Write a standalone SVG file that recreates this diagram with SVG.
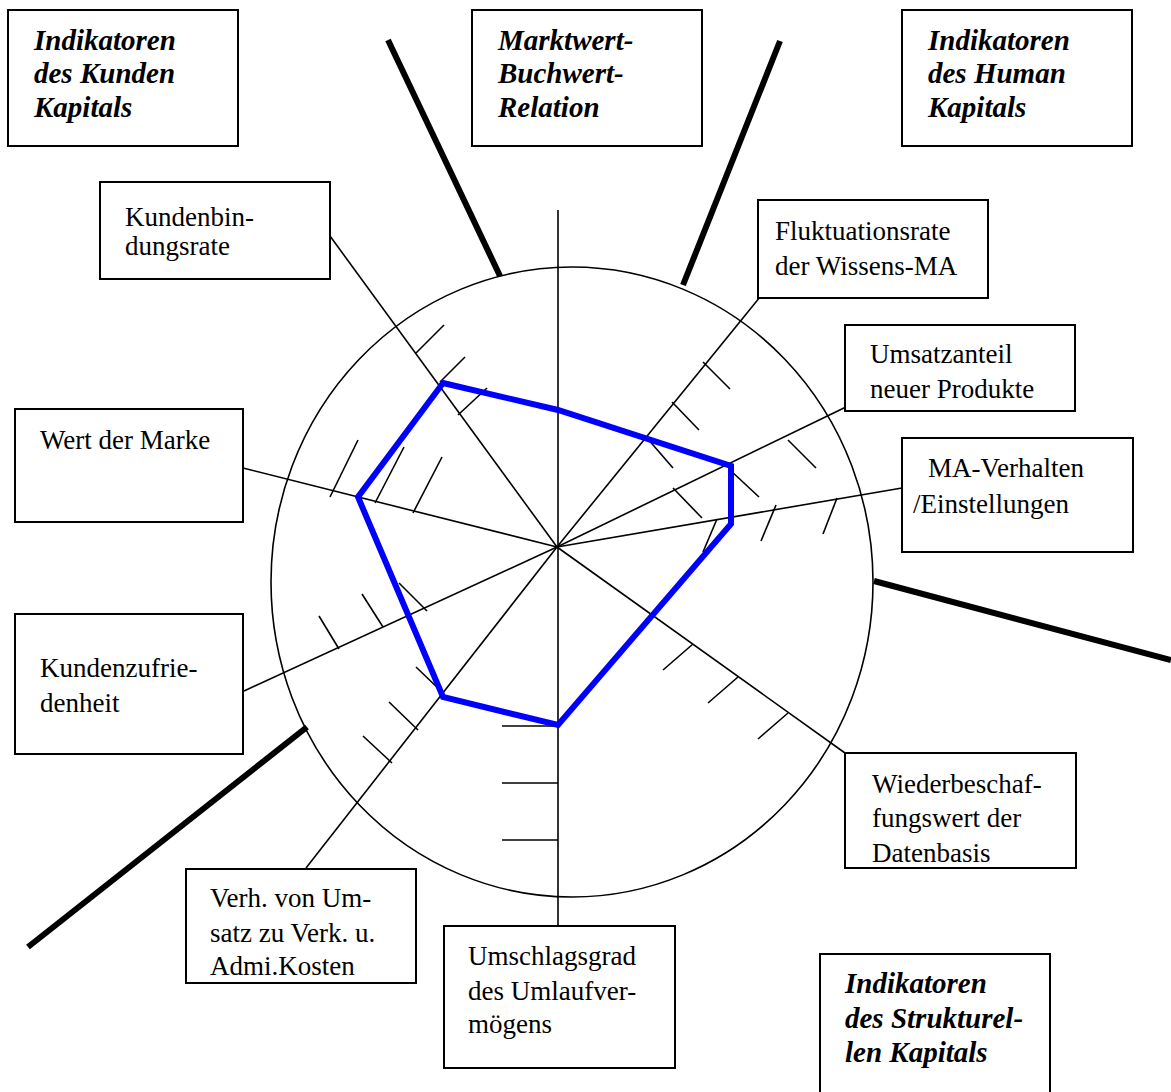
<svg xmlns="http://www.w3.org/2000/svg" width="1171" height="1092" viewBox="0 0 1171 1092">
<style>
.box{fill:#fff;stroke:#000;stroke-width:2}
.t{font-family:"Liberation Serif","Times New Roman",serif;font-size:27px;fill:#000}
.h{font-family:"Liberation Serif","Times New Roman",serif;font-size:29px;font-weight:bold;font-style:italic;fill:#000}
.thin{stroke:#000;stroke-width:1.6;fill:none}
.thick{stroke:#000;stroke-width:6;fill:none}
.blue{stroke:#0000ff;stroke-width:6;fill:none;stroke-linejoin:miter}
</style>
<rect width="1171" height="1092" fill="#fff"/>
<g id="connectors">
<ellipse class="thin" cx="572" cy="582" rx="301" ry="315"/>
<line class="thin" x1="558" y1="210" x2="558" y2="926"/>
<line class="thin" x1="557" y1="547" x2="330" y2="236"/>
<line class="thin" x1="557" y1="547" x2="760" y2="297"/>
<line class="thin" x1="557" y1="547" x2="846" y2="407"/>
<line class="thin" x1="557" y1="547" x2="902" y2="488"/>
<line class="thin" x1="557" y1="547" x2="845" y2="753"/>
<line class="thin" x1="557" y1="547" x2="306" y2="868"/>
<line class="thin" x1="557" y1="547" x2="244" y2="691"/>
<line class="thin" x1="557" y1="547" x2="243" y2="468"/>
<g id="ticks">
<line class="thin" x1="416" y1="353" x2="444" y2="325"/>
<line class="thin" x1="440" y1="382" x2="465" y2="357"/>
<line class="thin" x1="458" y1="415" x2="487" y2="388"/>
<line class="thin" x1="330" y1="497" x2="358" y2="440"/>
<line class="thin" x1="375" y1="503" x2="404" y2="447"/>
<line class="thin" x1="413" y1="513" x2="442" y2="457"/>
<line class="thin" x1="703" y1="362" x2="730" y2="389"/>
<line class="thin" x1="672" y1="402" x2="699" y2="430"/>
<line class="thin" x1="647" y1="438" x2="673" y2="468"/>
<line class="thin" x1="673" y1="488" x2="702" y2="518"/>
<line class="thin" x1="730" y1="470" x2="759" y2="497"/>
<line class="thin" x1="788" y1="440" x2="816" y2="468"/>
<line class="thin" x1="717" y1="519" x2="703" y2="552"/>
<line class="thin" x1="776" y1="505" x2="761" y2="541"/>
<line class="thin" x1="837" y1="498" x2="823" y2="534"/>
<line class="thin" x1="339" y1="649" x2="319" y2="616"/>
<line class="thin" x1="383" y1="627" x2="362" y2="594"/>
<line class="thin" x1="427" y1="611" x2="399" y2="583"/>
<line class="thin" x1="416" y1="667" x2="442" y2="692"/>
<line class="thin" x1="389" y1="702" x2="418" y2="730"/>
<line class="thin" x1="363" y1="736" x2="392" y2="763"/>
<line class="thin" x1="502" y1="726" x2="558" y2="726"/>
<line class="thin" x1="502" y1="783" x2="558" y2="783"/>
<line class="thin" x1="502" y1="840" x2="558" y2="840"/>
<line class="thin" x1="663" y1="670" x2="693" y2="644"/>
<line class="thin" x1="708" y1="703" x2="738" y2="677"/>
<line class="thin" x1="758" y1="739" x2="788" y2="713"/>
</g>
<line class="thick" x1="388" y1="40" x2="500" y2="276"/>
<line class="thick" x1="780" y1="41" x2="683" y2="285"/>
<line class="thick" x1="874" y1="581" x2="1171" y2="660"/>
<line class="thick" x1="307" y1="727" x2="28" y2="947"/>
<polygon class="blue" points="443,383 558,410 731,466 731,524 558,725 443,697 358,497"/>
</g>
<g id="kunden-kapital">
<rect class="box" x="8" y="10" width="230" height="136"/>
<text class="h" x="34" y="50">Indikatoren</text>
<text class="h" x="34" y="83">des Kunden</text>
<text class="h" x="34" y="117">Kapitals</text>
</g>
<g id="marktwert">
<rect class="box" x="472" y="10" width="230" height="136"/>
<text class="h" x="498" y="50">Marktwert-</text>
<text class="h" x="498" y="83">Buchwert-</text>
<text class="h" x="498" y="117">Relation</text>
</g>
<g id="human-kapital">
<rect class="box" x="902" y="10" width="230" height="136"/>
<text class="h" x="928" y="50">Indikatoren</text>
<text class="h" x="928" y="83">des Human</text>
<text class="h" x="928" y="117">Kapitals</text>
</g>
<g id="strukturelles-kapital">
<rect class="box" x="820" y="954" width="230" height="150"/>
<text class="h" x="845" y="993">Indikatoren</text>
<text class="h" x="845" y="1028">des Strukturel-</text>
<text class="h" x="845" y="1062">len Kapitals</text>
</g>
<g id="kundenbindungsrate">
<rect class="box" x="100" y="182" width="230" height="97"/>
<text class="t" x="125" y="226">Kundenbin-</text>
<text class="t" x="125" y="255">dungsrate</text>
</g>
<g id="fluktuationsrate">
<rect class="box" x="758" y="200" width="230" height="98"/>
<text class="t" x="775" y="240">Fluktuationsrate</text>
<text class="t" x="775" y="275">der Wissens-MA</text>
</g>
<g id="umsatzanteil">
<rect class="box" x="845" y="325" width="230" height="86"/>
<text class="t" x="870" y="363">Umsatzanteil</text>
<text class="t" x="870" y="398">neuer Produkte</text>
</g>
<g id="ma-verhalten">
<rect class="box" x="902" y="438" width="231" height="114"/>
<text class="t" x="928" y="477">MA-Verhalten</text>
<text class="t" x="913" y="513">/Einstellungen</text>
</g>
<g id="wert-der-marke">
<rect class="box" x="15" y="409" width="228" height="113"/>
<text class="t" x="40" y="449">Wert der Marke</text>
</g>
<g id="kundenzufriedenheit">
<rect class="box" x="15" y="614" width="228" height="140"/>
<text class="t" x="40" y="677">Kundenzufrie-</text>
<text class="t" x="40" y="712">denheit</text>
</g>
<g id="wiederbeschaffungswert">
<rect class="box" x="845" y="753" width="231" height="115"/>
<text class="t" x="872" y="793">Wiederbeschaf-</text>
<text class="t" x="872" y="827">fungswert der</text>
<text class="t" x="872" y="862">Datenbasis</text>
</g>
<g id="verh-umsatz">
<rect class="box" x="186" y="869" width="230" height="114"/>
<text class="t" x="210" y="907">Verh. von Um-</text>
<text class="t" x="210" y="942">satz zu Verk. u.</text>
<text class="t" x="210" y="975">Admi.Kosten</text>
</g>
<g id="umschlagsgrad">
<rect class="box" x="444" y="926" width="231" height="142"/>
<text class="t" x="468" y="965">Umschlagsgrad</text>
<text class="t" x="468" y="1000">des Umlaufver-</text>
<text class="t" x="468" y="1033">mögens</text>
</g>
</svg>
